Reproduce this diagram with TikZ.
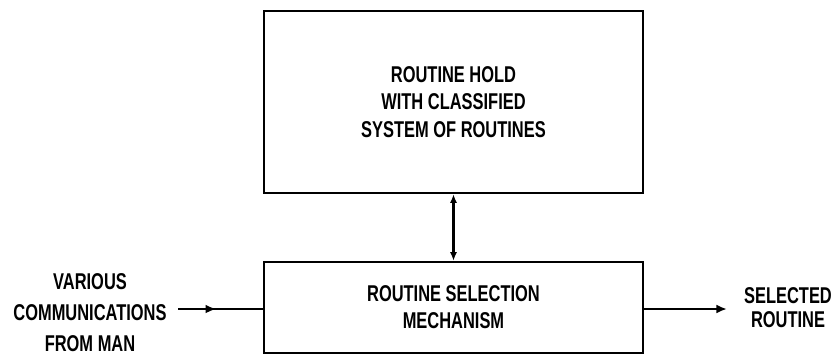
\documentclass[tikz,border=0pt]{standalone}
\usepackage{fontspec}
\setmainfont{Liberation Sans}[FakeStretch=0.72]
\usetikzlibrary{arrows.meta,decorations.markings}

\tikzset{
  block/.style={draw,line width=1.3pt,minimum width=7.58cm,inner sep=0pt,
    align=center,font=\bfseries\fontsize{13}{15.5}\selectfont},
  lbl/.style={align=center,inner sep=0pt},
  tip/.style={-{Latex[length=6pt,width=5pt]}},
  midtip/.style={postaction={decorate},decoration={markings,
    mark=at position 0.45 with {\arrow{Latex[length=6pt,width=5pt]}}}}
}

\begin{document}
\begin{tikzpicture}[x=0.02cm,y=-0.02cm,line width=1.3pt]
\useasboundingbox (0,0) rectangle (833,356);
% the two blocks
\node[block,minimum height=3.64cm] (hold) at (453.5,102)
  {ROUTINE HOLD\\WITH CLASSIFIED\\SYSTEM OF ROUTINES};
\node[block,minimum height=1.82cm] (sel) at (453.5,307.5)
  {ROUTINE SELECTION\\MECHANISM};
% labels
\node[lbl,font=\bfseries\fontsize{13}{17.6}\selectfont] (comm) at (90,313)
  {VARIOUS\\COMMUNICATIONS\\FROM MAN};
\node[lbl,font=\bfseries\fontsize{13}{13.8}\selectfont] (out) at (788,308)
  {SELECTED\\ROUTINE};
\coordinate (cin) at (178,309);
\coordinate (cout) at (727,309);
% connectors
\draw[{Latex[length=5pt,width=4pt]}-{Latex[length=5pt,width=4pt]}] (hold.south) -- (sel.north);
\draw[midtip] (cin) -- (sel.west |- cin);
\draw[tip] (sel.east |- cout) -- (cout);
\end{tikzpicture}
\end{document}
